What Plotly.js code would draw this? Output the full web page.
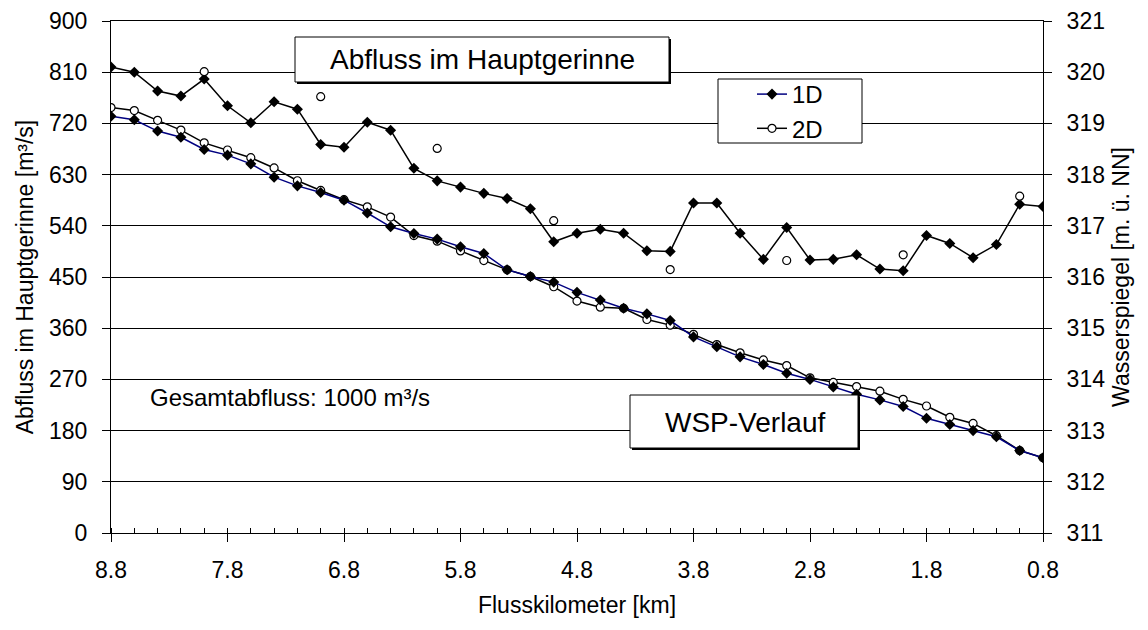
<!DOCTYPE html>
<html><head><meta charset="utf-8">
<script src="https://cdn.plot.ly/plotly-3.0.1.min.js"></script>
<style>html,body{margin:0;padding:0;background:#fff}</style>
</head><body><div id="chart" style="width:1148px;height:630px"></div>
<script>
// Flusskilometer (x categories)
const km = [8.8,8.6,8.4,8.2,8.0,7.8,7.6,7.4,7.2,7.0,6.8,6.6,6.4,6.2,6.0,5.8,5.6,5.4,5.2,5.0,
            4.8,4.6,4.4,4.2,4.0,3.8,3.6,3.4,3.2,3.0,2.8,2.6,2.4,2.2,2.0,1.8,1.6,1.4,1.2,1.0,0.8];
// Abfluss im Hauptgerinne, 1D [m³/s]
const abfluss1D = [819,810,777,768,798,751,721,758,745,683,678,722,708,641,619,608,597,588,570,512,
                   527,534,527,496,495,580,580,527,481,537,480,481,489,464,461,523,509,484,507,578,574];
// Abfluss im Hauptgerinne, 2D [m³/s] (only at full kilometres)
const km2D = [8.0,7.0,6.0,5.0,4.0,3.0,2.0,1.0];
const abfluss2D = [811,767,676,549,463,479,489,592];
// Wasserspiegel [m ü. NN]
const wsp1D = [319.14,319.07,318.85,318.73,318.49,318.38,318.21,317.95,317.78,317.65,317.50,317.25,316.98,
               316.85,316.74,316.59,316.46,316.14,316.01,315.90,315.70,315.55,315.39,315.28,315.15,314.83,
               314.64,314.44,314.29,314.12,314.00,313.85,313.71,313.60,313.47,313.24,313.12,313.00,312.88,312.61,312.47];
const wsp2D = [319.31,319.25,319.06,318.87,318.62,318.48,318.33,318.13,317.88,317.69,317.51,317.37,317.17,
               316.81,316.70,316.51,316.32,316.14,316.01,315.81,315.53,315.41,315.39,315.17,315.06,314.88,
               314.68,314.52,314.38,314.27,314.03,313.94,313.86,313.77,313.61,313.48,313.26,313.14,312.90,312.61,312.47];
const xTickVals = [8.8,7.8,6.8,5.8,4.8,3.8,2.8,1.8,0.8];
const xTickText = ['8.8','7.8','6.8','5.8','4.8','3.8','2.8','1.8','0.8'];

// pixel -> paper helpers for decorations
const L=111, R=1043, T=21, B=533;
const px = p => (p-L)/(R-L);
const py = p => (B-p)/(B-T);
const FONT = 'Arial, "Liberation Sans", sans-serif';

const traces = [
  {x: km, y: abfluss1D, yaxis:'y', mode:'lines+markers', showlegend:false, name:'Abfluss 1D',
   line:{color:'#000', width:1.5}, marker:{symbol:'diamond', size:8.5, color:'#000'}},
  {x: km2D, y: abfluss2D, yaxis:'y', mode:'markers', showlegend:false, name:'Abfluss 2D',
   marker:{symbol:'circle', size:8, color:'#fff', line:{color:'#000', width:1.2}}},
  {x: km, y: wsp2D, yaxis:'y2', mode:'lines+markers', name:'2D', legendrank:2,
   line:{color:'#000', width:1.5}, marker:{symbol:'circle', size:8, color:'#fff', line:{color:'#000', width:1.2}}},
  {x: km, y: wsp1D, yaxis:'y2', mode:'lines+markers', name:'1D', legendrank:1,
   line:{color:'#000080', width:1.5}, marker:{symbol:'diamond', size:8.5, color:'#000'}}
];

function box(x0,y0,x1,y1,shadow){
  const s=[];
  if(shadow) s.push({type:'rect', xref:'paper', yref:'paper', layer:'above',
    x0:px(x0+2), x1:px(x1+2), y0:py(y0+2), y1:py(y1+2), fillcolor:'#000', line:{width:0}});
  s.push({type:'rect', xref:'paper', yref:'paper', layer:'above',
    x0:px(x0), x1:px(x1), y0:py(y0), y1:py(y1), fillcolor:'#fff', line:{color:'#000', width:1}});
  return s;
}

const layout = {
  width:1148, height:630,
  margin:{l:L, r:1148-R, t:T, b:630-B, pad:0},
  paper_bgcolor:'#fff', plot_bgcolor:'#fff',
  font:{family:FONT, color:'#000', size:23},
  showlegend:true,
  legend:{x:px(752), y:py(72), xanchor:'left', yanchor:'top', bgcolor:'rgba(0,0,0,0)',
          borderwidth:0, font:{size:24, family:FONT}, traceorder:'normal'},
  xaxis:{range:[8.8,0.8], tickmode:'array', tickvals:xTickVals, ticktext:xTickText,
         ticks:'outside', ticklen:8, tickcolor:'#000', tickwidth:1,
         showline:true, linecolor:'#000', linewidth:1, mirror:true,
         showgrid:false, zeroline:false, ticklabelstandoff:8,
         minor:{tick0:0.8, dtick:0.2, ticks:'inside', ticklen:5, tickcolor:'#000', showgrid:false},
         title:{text:'Flusskilometer [km]', font:{size:23}, standoff:15}},
  yaxis:{range:[0,900], tick0:0, dtick:90, ticks:'outside', ticklen:8, tickcolor:'#000',
         showline:true, linecolor:'#000', linewidth:1, showgrid:true, gridcolor:'#000', gridwidth:1,
         zeroline:false, ticklabelstandoff:10,
         title:{text:'Abfluss im Hauptgerinne [m³/s]', font:{size:23}, standoff:8}},
  yaxis2:{range:[311,321], tick0:311, dtick:1, overlaying:'y', side:'right',
          ticks:'outside', ticklen:8, tickcolor:'#000', showline:true, linecolor:'#000', linewidth:1,
          showgrid:false, zeroline:false, ticklabelstandoff:10,
          title:{text:'Wasserspiegel [m. ü. NN]', font:{size:23}, standoff:8}},
  shapes:[].concat(box(295,37,669,82,true), box(630,395,858,448,true), box(718,79,862,143,false)),
  annotations:[
    {text:'Abfluss im Hauptgerinne', xref:'paper', yref:'paper', x:px(482), y:py(59),
     showarrow:false, xanchor:'center', yanchor:'middle', font:{size:28}},
    {text:'WSP-Verlauf', xref:'paper', yref:'paper', x:px(745), y:py(422),
     showarrow:false, xanchor:'center', yanchor:'middle', font:{size:28}},
    {text:'Gesamtabfluss: 1000 m³/s', xref:'paper', yref:'paper', x:px(148), y:py(397),
     showarrow:false, xanchor:'left', yanchor:'middle', font:{size:24}}
  ]
};

Plotly.newPlot('chart', traces, layout, {displayModeBar:false, staticPlot:true});
</script>
</body></html>
